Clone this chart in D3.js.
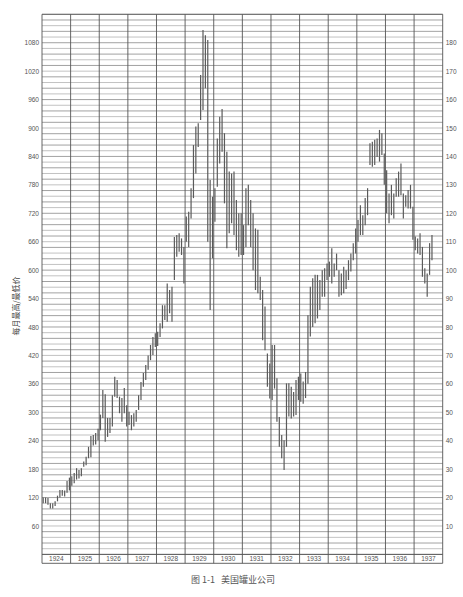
<!DOCTYPE html>
<html><head><meta charset="utf-8">
<script src="https://cdn.jsdelivr.net/npm/d3@7"></script>
<style>body{margin:0;background:#fff}</style>
</head><body>
<svg id="c" width="463" height="597"></svg>
<script>
const years = [1924,1925,1926,1927,1928,1929,1930,1931,1932,1933,1934,1935,1936,1937];
const leftTicks = [60,120,180,240,300,360,420,480,540,600,660,720,780,840,900,960,1020,1080];
const rightTicks = [10,20,30,40,50,60,70,80,90,100,110,120,130,140,150,160,170,180];
// monthly highs / lows (left scale), one row per year
const monthlyHigh = [
 [120,120,119,108,108,112,124,136,136,135,155,162],
 [165,172,182,178,182,196,206,227,250,252,256,265],
 [295,347,338,288,288,336,375,368,333,330,351,315],
 [301,294,298,305,336,364,383,400,420,442,459,467],
 [470,488,526,526,572,558,565,670,674,678,667,649],
 [713,723,773,864,903,910,1012,1107,1096,1086,790,755],
 [773,878,924,940,889,850,808,804,808,748,720,720],
 [695,773,780,748,720,688,685,586,558,523,424,403],
 [442,442,372,290,252,241,361,361,354,343,368,375],
 [382,365,385,505,565,583,590,590,579,600,604,614],
 [618,646,614,635,600,593,607,600,621,635,657,688],
 [706,737,716,752,773,868,871,875,878,896,889,846],
 [811,762,780,762,794,808,825,762,758,769,780,734],
 [671,667,678,649,604,593,657,674]
];
const monthlyLow = [
 [108,108,105,97,97,102,112,120,124,122,130,135],
 [145,150,158,160,165,185,188,203,205,230,232,241],
 [262,288,238,248,256,270,333,330,298,280,298,270],
 [273,262,270,280,305,326,354,368,390,410,421,438],
 [440,459,477,495,491,509,491,579,628,639,632,572],
 [660,649,709,752,804,860,917,938,984,660,516,625],
 [702,776,825,850,741,646,678,699,674,642,628,632],
 [632,649,695,649,600,558,551,537,452,431,354,329],
 [326,350,280,227,203,178,227,291,287,291,294,326],
 [322,318,330,360,460,480,488,498,516,544,544,579],
 [586,572,586,600,544,547,551,560,579,597,621,635],
 [660,674,674,695,716,822,818,822,839,829,843,780],
 [720,699,716,709,755,755,758,709,734,730,730,664],
 [642,635,632,586,572,544,590,621]
];

const svg = d3.select('#c');
const L = 42, R = 442.7, T = 14.3, B = 554.4, BB = 563.3;
const y = d3.scaleLinear().domain([0,1140]).range([B,T]);
const yR = d3.scaleLinear().domain([0,190]).range([B,T]);
const xYear = d3.scaleBand().domain(years).range([L,R]).padding(0);
const x = d3.scaleLinear().domain([0, years.length*12]).range([L,R]);

// horizontal grid
const g = svg.append('g');
g.selectAll('line.h').data(d3.range(0,1141,12)).join('line')
  .attr('x1',L).attr('x2',R)
  .attr('y1',d=>y(d)).attr('y2',d=>y(d))
  .attr('stroke',(d,i)=> i%2 ? '#a8a8a8' : '#7a7a7a')
  .attr('stroke-width',0.7);

// vertical year lines
g.selectAll('line.v').data(years.concat([null])).join('line')
  .attr('x1',(d,i)=> i<years.length ? xYear(d) : R)
  .attr('x2',(d,i)=> i<years.length ? xYear(d) : R)
  .attr('y1',T).attr('y2',BB)
  .attr('stroke','#555').attr('stroke-width',0.9);
// top and bottom borders
[T,B,BB].forEach(v=> g.append('line').attr('x1',L).attr('x2',R).attr('y1',v).attr('y2',v)
  .attr('stroke','#555').attr('stroke-width',0.9));

// bars
const bars = [];
monthlyHigh.forEach((row,yi)=>row.forEach((h,m)=>bars.push({k:yi*12+m,h:h,l:monthlyLow[yi][m]})));
svg.append('g').selectAll('line').data(bars).join('line')
  .attr('x1',d=>x(d.k+0.5)).attr('x2',d=>x(d.k+0.5))
  .attr('y1',d=>y(d.h)).attr('y2',d=>y(d.l))
  .attr('stroke','#5a5a5a').attr('stroke-width',1.2);

// axes
const font = '"Liberation Sans", Arial, sans-serif';
const axL = svg.append('g').attr('transform',`translate(${L-3},0)`)
  .call(d3.axisLeft(y).tickValues(leftTicks).tickSize(0).tickPadding(0).tickFormat(d3.format('d')));
const axR = svg.append('g').attr('transform',`translate(${R+3},0)`)
  .call(d3.axisRight(yR).tickValues(rightTicks).tickSize(0).tickPadding(0).tickFormat(d3.format('d')));
const axB = svg.append('g').attr('transform',`translate(0,${B})`)
  .call(d3.axisBottom(xYear).tickSize(0).tickPadding(2).tickFormat(d3.format('d')));
[axL,axR,axB].forEach(a=>{
  a.select('.domain').remove();
  a.selectAll('text').attr('font-family',font).attr('font-size',6.5).attr('fill','#555');
});

// y label
svg.append('text').attr('transform','translate(19,306) rotate(-90)')
  .attr('text-anchor','middle').attr('font-family','"Noto Sans CJK SC", sans-serif')
  .attr('font-size',8).attr('fill','#444').text('每月最高/最低价');

// caption
svg.append('text').attr('x',233).attr('y',583)
  .attr('text-anchor','middle').attr('font-family','"Noto Sans CJK SC", sans-serif')
  .attr('font-size',9).attr('fill','#555').attr('xml:space','preserve').text('图 1-1   美国罐业公司');
</script>
</body></html>
